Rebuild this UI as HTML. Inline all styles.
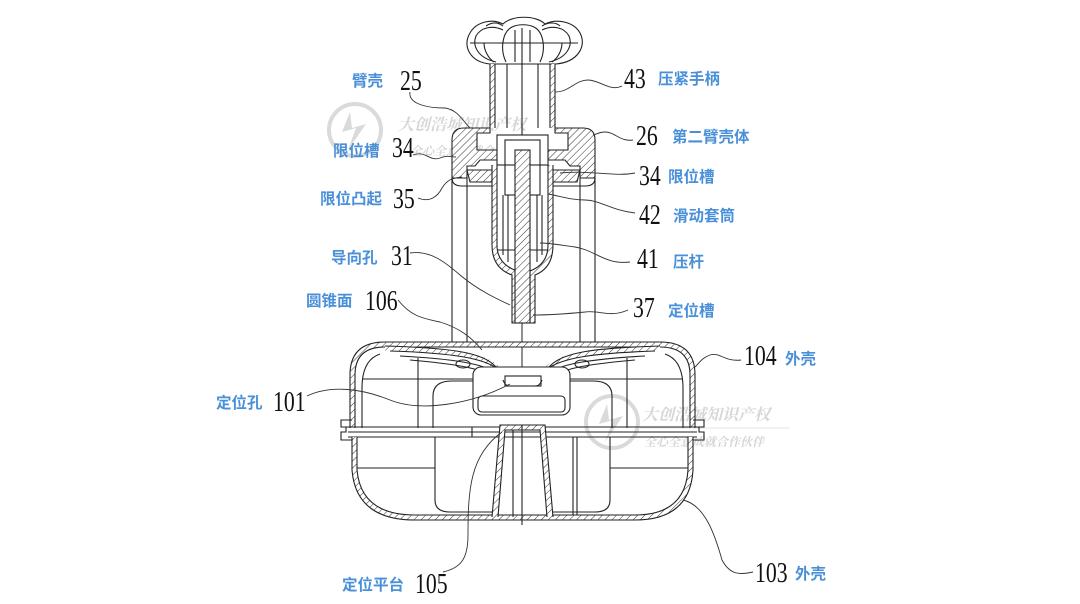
<!DOCTYPE html>
<html><head><meta charset="utf-8"><style>
html,body{margin:0;padding:0;background:#fff;}
svg{display:block;}
.n{font-family:"Liberation Serif",serif;font-size:29px;fill:#111;}
.c{font-family:"Liberation Sans","Noto Sans CJK SC",sans-serif;font-size:15.5px;font-weight:bold;fill:#4a90d9;}
.w{font-family:"Liberation Serif","Noto Serif CJK SC",serif;fill:#d2d2d2;font-weight:bold;}
</style></head><body>
<svg width="1080" height="604" viewBox="0 0 1080 604" xmlns="http://www.w3.org/2000/svg">
<defs>
<pattern id="h" width="5" height="5" patternUnits="userSpaceOnUse" patternTransform="rotate(45)">
<rect width="5" height="5" fill="#fff"/><line x1="0" y1="0" x2="0" y2="5" stroke="#333" stroke-width="1"/>
</pattern>
</defs>
<rect width="1080" height="604" fill="#fff"/>

<!-- watermarks -->
<g opacity="0.9">
<circle cx="355" cy="130" r="26" fill="none" stroke="#d6d6d6" stroke-width="4"/>
<path d="M350,112 L342,132 L356,128 L348,150 L366,124 L352,128 Z" fill="#d6d6d6"/>
<text class="w" x="398" y="130" font-size="16" font-style="italic">大创浩城知识产权</text>
<text class="w" x="410" y="155" font-size="12" font-style="italic">全心全意成就合作伙伴</text>
<circle cx="612" cy="422" r="26" fill="none" stroke="#d6d6d6" stroke-width="4"/>
<path d="M607,404 L599,424 L613,420 L605,442 L623,416 L609,420 Z" fill="#d6d6d6"/>
<text class="w" x="642" y="420" font-size="16" font-style="italic">大创浩城知识产权</text>
<line x1="640" y1="428" x2="790" y2="428" stroke="#e2e2e2" stroke-width="1"/>
<text class="w" x="644" y="446" font-size="12" font-style="italic">全心全意成就合作伙伴</text>
</g>

<g fill="none" stroke="#222" stroke-width="1.1">
<!-- knob -->
<path d="M490,64 C470,62 462,46 470,33 C476,22 492,18 503,24 C512,15 536,15 545,24 C557,18 574,22 580,33 C587,46 578,62 556,64 Z" fill="#fff"/>
<path d="M496,62 C478,58 472,46 476,36 C481,27 493,25 503,30 M549,62 C567,58 573,46 569,36 C564,27 552,25 542,30"/>
<line x1="470" y1="43" x2="578" y2="43"/>
<path d="M506,62 C500,50 502,32 512,27 C518,24 528,24 534,27 C544,32 546,50 540,62"/>
<path d="M515,62 L515,30 M530,62 L530,30 M522,28 L522,64 M484,43 C484,50 488,58 494,62 M562,43 C562,50 558,58 552,62"/>
<path d="M486,26 C492,22 498,22 503,26 M542,26 C548,22 556,22 560,26"/>

<!-- stem -->
<path d="M492.5,64 L492.5,128 M552.5,64 L552.5,128" stroke="url(#h)" stroke-width="5"/>
<path d="M490,64 L490,128 M495,64 L495,128 M555,64 L555,128 M550,64 L550,128"/>
<path d="M507,64 L507,128 M538,64 L538,128 M522,64 L522,165"/>

<!-- second arm shell 26 -->
<path d="M452,178 L452,140 Q452,128 464,128 L490,128 L490,133 L477,133 L477,150 L497,150 L497,160 L480,160 L475,166 L467,166 L467,178 Z" fill="url(#h)"/>
<path d="M595,178 L595,140 Q595,128 583,128 L555,128 L555,133 L568,133 L568,150 L548,150 L548,160 L565,160 L570,166 L580,166 L580,178 Z" fill="url(#h)"/>
<rect x="497" y="135" width="51" height="30" fill="#fff"/>
<rect x="505" y="140" width="35" height="55"/>
<path d="M467,170 L492,170 L492,182 L470,182 Z M580,170 L553,170 L553,182 L577,182 Z" fill="url(#h)"/>
<path d="M452,178 Q452,186 462,186 L492,186 M595,178 Q595,186 585,186 L553,186"/>

<!-- cylinder -->
<path d="M452,178 L452,342 M595,178 L595,342 M467,178 L467,342 M580,178 L580,342"/>

<!-- sleeve -->
<path d="M494.5,165 L494.5,245 Q494.5,266 514.5,273 L514.5,323 M550.5,165 L550.5,245 Q550.5,266 532.5,273 L532.5,323" stroke="url(#h)" stroke-width="5"/>
<path d="M492,165 L492,245 Q492,268 512,275 L512,323 L535,323 L535,275 Q553,268 553,245 L553,165"/>
<path d="M497,165 L497,245 Q497,264 517,271 L517,323 M548,165 L548,245 Q548,264 530,271 L530,323"/>
<path d="M503,195 L503,255 M508,195 L508,262 M537,195 L537,262 M542,195 L542,255 M497,250 L548,250"/>
<rect x="515" y="150" width="15" height="173" fill="url(#h)"/>
<path d="M522,323 L522,382" stroke-width="1"/>

<!-- upper shell 104 -->
<path d="M352.5,428 L352.5,375 Q352.5,344.5 385,344.5 L660,344.5 Q692.5,344.5 692.5,375 L692.5,428" stroke="url(#h)" stroke-width="5"/>
<path d="M350,428 L350,375 Q350,342 385,342 L660,342 Q695,342 695,375 L695,428"/>
<path d="M355,428 L355,375 Q355,347 385,347 L660,347 Q690,347 690,375 L690,428"/>

<!-- cone 106 -->
<path d="M385,348 C450,350 484,355 497,368 C502,373 504,377 505,380 M660,348 C595,350 561,355 548,368 C543,373 541,377 540,380" stroke="url(#h)" stroke-width="5"/>
<path d="M385,346 C450,348 482,352 495,366 C500,371 502,375 503,380 M660,346 C595,348 563,352 550,366 C545,371 543,375 542,380"/>
<path d="M390,351 C452,353 485,358 499,370 C504,375 506,378 507,380 M655,351 C593,353 560,358 546,370 C541,375 539,378 538,380"/>
<path d="M400,356 C455,359 483,364 494,372 M645,356 C590,359 562,364 551,372"/>
<path d="M410,360 C455,364 478,368 486,374 M635,360 C590,364 567,368 559,374"/>
<ellipse cx="463" cy="364" rx="7" ry="4"/><ellipse cx="582" cy="364" rx="7" ry="4"/>

<!-- central box -->
<rect x="473" y="367" width="97" height="48" rx="8" fill="#fff"/>
<rect x="478" y="396" width="87" height="16" rx="4"/>
<rect x="505" y="376" width="36" height="10" fill="#fff"/>
<path d="M503,380 C505,385 507,386 510,386 M542,380 C540,385 538,386 535,386"/>

<!-- inner shell lines -->
<path d="M362,428 L362,388 Q362,360 380,354 M683,428 L683,388 Q683,360 665,354"/>
<path d="M418,358 L418,428 M627,358 L627,428"/>
<path d="M362,379 L473,379 M683,379 L570,379"/>
<path d="M433,428 L433,396 Q433,381 452,381 L473,381 M612,428 L612,396 Q612,381 593,381 L570,381"/>

<!-- flange -->
<path d="M345,427 L700,427 M348,432 L697,432 M348,437 L697,437"/>
<path d="M352,420 L341,420 L341,427 L346,427 L346,432 L341,432 L341,440 L352,440 M693,420 L704,420 L704,427 L699,427 L699,432 L704,432 L704,440 L693,440"/>

<!-- lower shell 103 -->
<path d="M354.5,437 L354.5,470 Q358.5,517.5 415,517.5 L635,517.5 Q687.5,517.5 690.5,470 L690.5,437" stroke="url(#h)" stroke-width="5"/>
<path d="M352,437 L352,470 Q356,520 415,520 L635,520 Q690,520 693,470 L693,437"/>
<path d="M357,437 L357,470 Q361,515 415,515 L635,515 Q685,515 688,470 L688,437"/>
<path d="M357,468 L435,468 M610,468 L688,468"/>
<path d="M435,437 L435,500 Q435,512 450,512 L493,512 M610,437 L610,500 Q610,512 595,512 L552,512"/>
<path d="M573,437 L573,515 M577,437 L577,515 M472,427 L472,437"/>

<!-- platform 105 -->
<path d="M495,517 L502.5,427.5 L542.5,427.5 L550,517" stroke="url(#h)" stroke-width="5"/>
<path d="M492,517 L500,425 L545,425 L553,517 M498,517 L505,430 L540,430 L547,517"/>
<path d="M522,425 L522,525 M513,430 L513,517"/>
</g>

<!-- leaders -->
<g fill="none" stroke="#333" stroke-width="0.9">
<path d="M410,92 C408,105 430,108 445,108 C458,110 462,120 470,128"/>
<path d="M622,86 C610,92 600,80 588,80 C575,80 570,92 555,92"/>
<path d="M413,155 C425,150 430,162 440,158 C447,155 450,157 456,157"/>
<path d="M633,140 C620,142 615,132 605,132 C598,132 596,135 593,135"/>
<path d="M635,173 C615,177 590,170 560,173"/>
<path d="M418,198 C430,203 438,196 442,188 C447,180 452,178 462,177"/>
<path d="M635,213 C610,210 600,200 585,200 C570,200 560,196 548,194"/>
<path d="M410,253 C430,250 445,262 460,275 C478,290 495,298 510,305"/>
<path d="M630,262 C605,265 595,250 575,247 C560,245 550,243 540,243"/>
<path d="M398,300 C410,315 420,318 440,322 C460,328 472,338 482,350"/>
<path d="M628,310 C610,318 600,310 585,312 C565,314 550,315 533,315"/>
<path d="M741,360 C725,362 720,352 710,355 C702,358 700,362 695,367"/>
<path d="M307,396 C330,385 360,388 390,400 C420,412 470,405 510,384"/>
<path d="M753,572 C740,575 730,575 722,560 C715,535 705,505 683,500"/>
<path d="M443,572 C460,568 468,560 468,535 C468,490 470,455 502,432"/>
</g>

<!-- numbers -->
<text class="n" transform="translate(400,90) scale(0.75,1)">25</text>
<text class="n" transform="translate(624,88) scale(0.75,1)">43</text>
<text class="n" transform="translate(392,157) scale(0.75,1)">34</text>
<text class="n" transform="translate(636,145) scale(0.75,1)">26</text>
<text class="n" transform="translate(639,185) scale(0.75,1)">34</text>
<text class="n" transform="translate(393,208) scale(0.75,1)">35</text>
<text class="n" transform="translate(639,224) scale(0.75,1)">42</text>
<text class="n" transform="translate(391,265) scale(0.75,1)">31</text>
<text class="n" transform="translate(637,268) scale(0.75,1)">41</text>
<text class="n" transform="translate(365,310) scale(0.75,1)">106</text>
<text class="n" transform="translate(633,317) scale(0.75,1)">37</text>
<text class="n" transform="translate(744,365) scale(0.75,1)">104</text>
<text class="n" transform="translate(273,411) scale(0.75,1)">101</text>
<text class="n" transform="translate(755,582) scale(0.75,1)">103</text>
<text class="n" transform="translate(415,593) scale(0.75,1)">105</text>

<!-- labels -->
<text class="c" x="352" y="86">臂壳</text>
<text class="c" x="658" y="84">压紧手柄</text>
<text class="c" x="333" y="156">限位槽</text>
<text class="c" x="672" y="142">第二臂壳体</text>
<text class="c" x="668" y="182">限位槽</text>
<text class="c" x="320" y="204">限位凸起</text>
<text class="c" x="673" y="221">滑动套筒</text>
<text class="c" x="331" y="263">导向孔</text>
<text class="c" x="673" y="267">压杆</text>
<text class="c" x="306" y="306">圆锥面</text>
<text class="c" x="668" y="316">定位槽</text>
<text class="c" x="785" y="364">外壳</text>
<text class="c" x="216" y="408">定位孔</text>
<text class="c" x="795" y="579">外壳</text>
<text class="c" x="342" y="590">定位平台</text>
</svg>
</body></html>
